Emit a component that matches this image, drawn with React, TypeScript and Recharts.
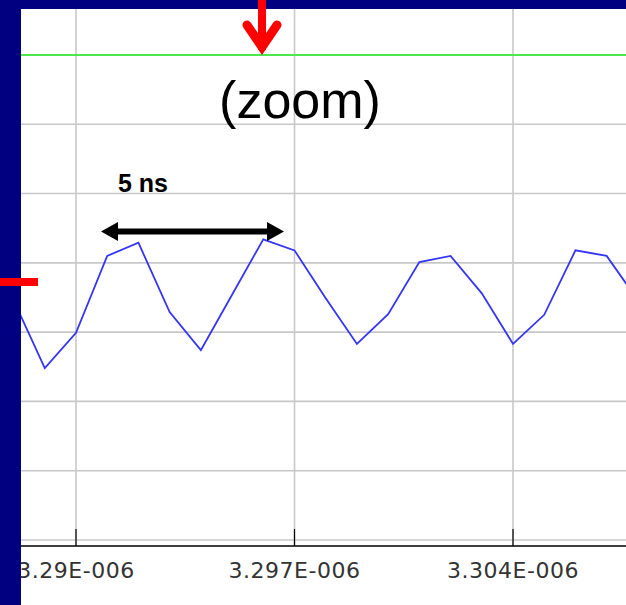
import React from "react";
import { LineChart, Line, XAxis, YAxis, CartesianGrid, ReferenceLine } from "recharts";

// sample times in ns (1 ns step) and the scope trace level (grid divisions)
const timesNs = [3288, 3289, 3290, 3291, 3292, 3293, 3294, 3295, 3296, 3297, 3298, 3299, 3300, 3301, 3302, 3303, 3304, 3305, 3306, 3307, 3308];
const levels = [3.46, 2.48, 2.99, 4.1, 4.29, 3.29, 2.74, 3.54, 4.34, 4.18, 3.49, 2.83, 3.26, 4.01, 4.1, 3.56, 2.83, 3.25, 4.18, 4.1, 3.46];

const xTicks = [3290, 3297, 3304];
const gridLevels = [0, 1, 2, 3, 4, 5, 6, 7];
const triggerLevel = 7;

const data = timesNs.map((t, i) => ({ t, v: levels[i] }));

const fmtTime = (t: number) => `${+(t / 1000).toFixed(3)}E-006`;

// eslint-disable-next-line @typescript-eslint/no-explicit-any
const TimeTick = ({ x, y, payload }: any) => (
  <g>
    <line x1={x} x2={x} y1={y - 33} y2={y - 16} stroke="#000" strokeWidth={1.2} />
    <text x={x} y={y + 16} textAnchor="middle" fontFamily="DejaVu Sans" fontSize={22} letterSpacing={0.5} fill="#333">
      {fmtTime(payload.value)}
    </text>
  </g>
);

export default function App() {
  return (
    <div style={{ position: "absolute", left: 0, top: 0, width: 626, height: 605, background: "#fff" }}>
      <LineChart width={626} height={605} data={data} margin={{ top: 9, right: 0, left: 21, bottom: 0 }}>
        <CartesianGrid stroke="#c8c8c8" strokeWidth={1.6} horizontalValues={gridLevels} verticalValues={xTicks} />
        <XAxis
          dataKey="t"
          type="number"
          domain={[3288.238, 3307.62]}
          allowDataOverflow
          ticks={xTicks}
          tick={<TimeTick />}
          tickLine={false}
          tickSize={0}
          tickMargin={16}
          height={59}
          axisLine={{ stroke: "#000", strokeWidth: 1.5 }}
        />
        <YAxis hide type="number" domain={[-0.087, 7.664]} allowDataOverflow ticks={gridLevels} />
        <ReferenceLine y={triggerLevel} stroke="#4de84d" strokeWidth={2} />
        <Line dataKey="v" stroke="#3535f5" strokeWidth={1.8} dot={false} isAnimationActive={false} />
      </LineChart>

      {/* screen frame and annotations */}
      <svg width={626} height={605} style={{ position: "absolute", left: 0, top: 0, pointerEvents: "none" }}>
        <rect x={0} y={0} width={626} height={9} fill="#000080" />
        <rect x={0} y={0} width={21} height={605} fill="#000080" />
        <rect x={0} y={278} width={38} height={8} fill="#ff0000" />
        <line x1={262} x2={262} y1={0} y2={50} stroke="#ff0000" strokeWidth={8} />
        <polyline points="247,25 262,47 277,25" fill="none" stroke="#ff0000" strokeWidth={9} strokeLinecap="round" strokeLinejoin="miter" />
        <text x={300} y={118} textAnchor="middle" fontFamily="Liberation Sans, Arial" fontSize={52} fill="#000">(zoom)</text>
        <text x={118} y={192} fontFamily="Liberation Sans, Arial" fontWeight="bold" fontSize={25} fill="#000">5 ns</text>
        <line x1={112} x2={272} y1={231.5} y2={231.5} stroke="#000" strokeWidth={6} />
        <polygon points="101,231.5 118,222 118,241" fill="#000" />
        <polygon points="284,231.5 267,222 267,241" fill="#000" />
      </svg>
    </div>
  );
}
